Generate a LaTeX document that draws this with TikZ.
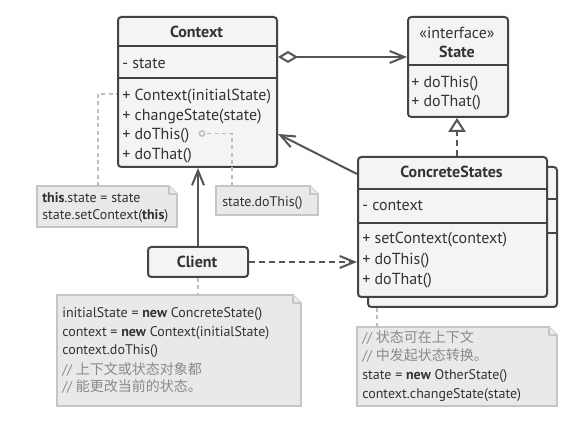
\documentclass[tikz,border=0pt]{standalone}
\usepackage{fontspec}
\setmainfont{PT Sans}
\newfontfamily\cjk{Noto Sans CJK SC}
\usetikzlibrary{arrows.meta}
\definecolor{boxfill}{HTML}{F4F4F4}
\definecolor{boxline}{HTML}{444444}
\definecolor{txt}{HTML}{333333}
\definecolor{notefill}{HTML}{E9E9E9}
\definecolor{noteline}{HTML}{C6C6C6}
\definecolor{cmt}{HTML}{8A8A8A}
\definecolor{conn}{HTML}{555555}
\definecolor{dotc}{HTML}{BDBDBD}
\newcommand{\umlnote}[5]{%
  \node[anchor=north west, inner sep=0pt, minimum width={(#4-#2)*0.75pt}, minimum height={(#5-#3)*0.75pt}] (#1) at (#2,#3) {};
  \draw[notebox] (#2,#3) -- (#4-8,#3) -- (#4,#3+8) -- (#4,#5) -- (#2,#5) -- cycle;
  \draw[notebox, line join=round] (#4-8,#3) -- (#4-8,#3+8) -- (#4,#3+8);
}
\begin{document}
\begin{tikzpicture}[x=0.75pt,y=-0.75pt,
  box/.style={draw=boxline, fill=boxfill, line width=1.5pt, rounded corners=2.5pt, anchor=north west, inner sep=0pt},
  divider/.style={draw=boxline, line width=1.5pt},
  notebox/.style={draw=noteline, fill=notefill, line width=1.2pt},
  mem/.style={anchor=base west, inner sep=0pt, text=txt, font=\fontsize{12}{14}\selectfont},
  ttl/.style={anchor=base, inner sep=0pt, text=txt, font=\fontsize{12}{14}\selectfont\bfseries},
  ntxt/.style={anchor=base west, inner sep=0pt, text=txt, font=\fontsize{10.5}{12}\selectfont},
  cmtxt/.style={ntxt, text=cmt},
  conn/.style={draw=conn, line width=1.5pt},
  dotline/.style={draw=dotc, line width=1.1pt, dash pattern=on 3pt off 2.5pt},
  barb/.style={-{Straight Barb[length=11pt,width=9pt]}},
]
\useasboundingbox (0,0) rectangle (574,423);
\fill[white] (0,0) rectangle (574,423);

% Context
\node[box, minimum width={159*0.75pt}, minimum height={150*0.75pt}] (ctx) at (117,16) {};
\draw[divider] (ctx.west |- 0,46) -- (ctx.east |- 0,46);
\draw[divider] (ctx.west |- 0,78) -- (ctx.east |- 0,78);
\node[ttl] (ctxt) at (196.5,37.5) {Context};
\node[mem] (ctx1) at (122,68.5) {- state};
\node[mem] (ctx2) at (122,100.5) {+ Context(initialState)};
\node[mem] (ctx3) at (122,120.5) {+ changeState(state)};
\node[mem] (ctx4) at (122,140) {+ doThis()};
\node[mem] (ctx5) at (122,159.5) {+ doThat()};

% State
\node[box, minimum width={100*0.75pt}, minimum height={100*0.75pt}] (st) at (407,16) {};
\draw[divider] (st.west |- 0,65) -- (st.east |- 0,65);
\node[anchor=base, inner sep=0pt, text=txt, font=\fontsize{12}{14}\selectfont] (st0) at (457,38.5) {«interface»};
\node[ttl] (stt) at (457,57.5) {State};
\node[mem] (st1) at (411,87.5) {+ doThis()};
\node[mem] (st2) at (411,106.5) {+ doThat()};

% ConcreteStates (back copy then front)
\node[box, minimum width={189*0.75pt}, minimum height={140*0.75pt}] (csb) at (367,166) {};
\draw[divider] (csb.west |- 0,199) -- (csb.east |- 0,199);
\draw[divider] (csb.west |- 0,233) -- (csb.east |- 0,233);
\node[box, minimum width={189*0.75pt}, minimum height={140*0.75pt}] (cs) at (357,156) {};
\draw[divider] (cs.west |- 0,189) -- (cs.east |- 0,189);
\draw[divider] (cs.west |- 0,223) -- (cs.east |- 0,223);
\node[ttl] (cst) at (451.5,177.5) {ConcreteStates};
\node[mem] (cs1) at (362,210.5) {- context};
\node[mem] (cs2) at (362,243.5) {+ setContext(context)};
\node[mem] (cs3) at (362,264.5) {+ doThis()};
\node[mem] (cs4) at (362,284.5) {+ doThat()};

% Client
\node[box, minimum width={100*0.75pt}, minimum height={30*0.75pt}] (cl) at (147,246) {};
\node[ttl] (clt) at (197,267.5) {Client};

% connectors
\draw[conn, {Diamond[open, fill=white, length=15pt, width=9pt]}-{Straight Barb[length=11pt,width=9pt]}] (ctx.east |- 0,57) -- (st.west |- 0,57);
\draw[conn, dash pattern=on 4.5pt off 3pt, -{Triangle[open, fill=white, length=10.5pt, width=13pt]}] (cs.north -| 457,0) -- (st.south -| 457,0);
\draw[conn, barb] (cs.west |- 0,174) -- (ctx.east |- 0,134);
\draw[conn, barb] (cl.north) -- (ctx.south -| cl.north);
\draw[conn, barb, dash pattern=on 4.5pt off 3pt] (cl.east) -- (cs.west |- cl.east);

% notes
\umlnote{n1}{37}{186}{177}{227}
\umlnote{n2}{216}{186}{318}{215}
\umlnote{n3}{57}{295}{301}{406}
\umlnote{n4}{357}{327}{557}{406}

\node[circle, draw=dotc, line width=1.1pt, fill=boxfill, minimum size=4pt, inner sep=0pt] (dot) at (202,133.5) {};
\draw[dotline] (n1.north -| 98,0) |- (ctx.west |- 0,94);
\draw[dotline] (n2.north -| 232,0) |- (dot.east);
\draw[dotline] (cl.south) -- (n3.north -| cl.south);
\draw[dotline] (csb.south -| 377,0) -- (n4.north -| 377,0);

\node[ntxt] (n1a) at (42,202.5) {\textbf{this}.state = state};
\node[ntxt] (n1b) at (42,219.5) {state.setContext(\textbf{this})};
\node[ntxt] (n2a) at (222,207) {state.doThis()};
\node[ntxt] (n3a) at (62,318) {initialState = \textbf{new} ConcreteState()};
\node[ntxt] (n3b) at (62,337) {context = \textbf{new} Context(initialState)};
\node[ntxt] (n3c) at (62,355) {context.doThis()};
\node[cmtxt] (n3d) at (62,374) {// {\cjk 上下文或状态对象都}};
\node[cmtxt] (n3e) at (62,392) {// {\cjk 能更改当前的状态。}};
\node[cmtxt] (n4a) at (362,343) {// {\cjk 状态可在上下文}};
\node[cmtxt] (n4b) at (362,360.5) {// {\cjk 中发起状态转换。}};
\node[ntxt] (n4c) at (362,379.5) {state = \textbf{new} OtherState()};
\node[ntxt] (n4d) at (362,398) {context.changeState(state)};
\end{tikzpicture}
\end{document}
